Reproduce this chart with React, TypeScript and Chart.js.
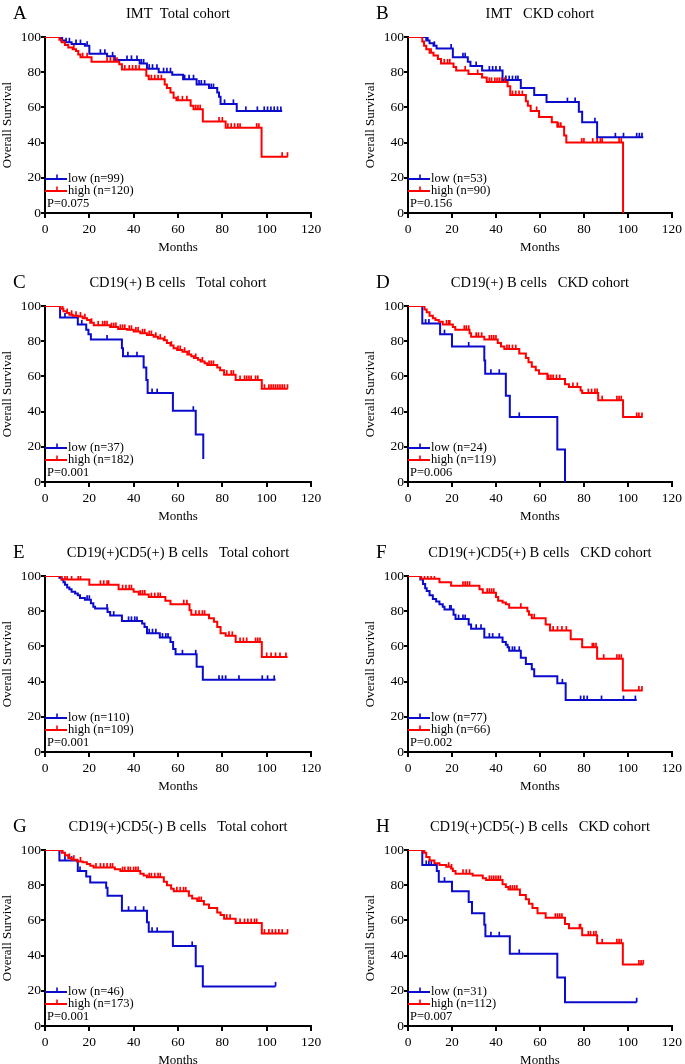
import { useEffect, useRef } from 'react';
import { Chart, registerables } from 'chart.js';

Chart.register(...registerables);

const FONT = "'Liberation Serif', 'Times New Roman', Times, serif";
const BLUE = '#0b0bcc';
const RED = '#ff0000';

const xTicks = [0, 20, 40, 60, 80, 100, 120];
const yTicks = [0, 20, 40, 60, 80, 100];

// ---- Panel A: IMT, total cohort ----
const A_low_t = [7.2, 9, 12, 18, 20, 28, 31.5, 42.7, 46, 51.3, 57.4, 62.3, 68.4, 74, 77.7, 78.5, 79.2, 86.5];
const A_low_s = [98, 97, 96, 95, 90.5, 89, 87, 85, 82, 80, 78.5, 76, 73, 71, 68.5, 66, 62, 58];
const A_low_c = [1, 2.5, 4, 5, 7.8, 9.5, 11, 14, 16, 19, 25, 27, 30.5, 37, 39, 41.5, 43.5, 44.5, 47, 48.5, 50.5, 53.5, 55, 56.6, 63, 65, 67, 69.5, 70.5, 72, 75, 76, 81, 85, 90.6, 95.8, 98.9, 100.4, 101.9, 103.4, 104.9, 106.4];
const A_low_end = 107;
const A_high_t = [6.5, 7.5, 9, 10.5, 12.5, 14, 15, 16, 21, 33.5, 34.7, 45.7, 46.8, 54, 55, 56.6, 58, 59.3, 65.7, 67, 71.2, 81.5, 97.7];
const A_high_s = [98.5, 97, 95.5, 94, 93, 92, 90, 88.5, 86, 84.5, 81.5, 78, 76, 73, 71, 68.5, 65.5, 64, 61, 59, 52, 48.5, 32];
const A_high_c = [1, 2, 3, 4, 5, 13, 17, 19, 28, 29.5, 31, 32.5, 36, 38, 39.5, 41, 42.5, 48, 49.5, 51, 52.5, 60, 62, 64, 68, 69, 70, 78.5, 80, 82.5, 84, 85.5, 87, 88, 95.5, 96.5, 107, 109.4];
const A_high_end = 109.5;

// ---- Panel B: IMT, CKD cohort ----
const B_low_t = [8.3, 9.8, 11.6, 13, 20.4, 27.2, 28.4, 33.7, 43, 51.3, 57.4, 63, 77.7, 79.2, 86];
const B_low_s = [98, 96.5, 95, 93.5, 88.5, 86, 83.5, 81, 75.5, 71, 67, 63, 57.5, 51.5, 43];
const B_low_c = [2.3, 4, 7.5, 9, 12, 19.6, 25, 26, 31, 37, 38.5, 40, 41.8, 44.5, 46, 47.5, 49, 50, 72.5, 76, 85, 94.3, 98, 104, 105.2, 106.4];
const B_low_end = 107;
const B_high_t = [6.5, 7.3, 8.3, 9.8, 11.6, 13.6, 15, 20.7, 21.9, 27.5, 33.7, 35.8, 45.3, 46.5, 53.6, 54.5, 55.8, 59.6, 65.4, 67.9, 71, 72, 97.8];
const B_high_s = [97.5, 95, 93, 91, 89.5, 87.5, 85, 83, 81, 79, 77, 74.5, 72, 67, 63.5, 61, 58, 54.5, 51.5, 49, 44, 40, 0];
const B_high_c = [1, 2, 3, 4, 5, 10.5, 16.5, 18, 19, 26, 31.7, 37, 38, 39.5, 40.5, 41.5, 42.5, 44, 47.5, 49, 50.5, 52, 58.5, 68.5, 69.5, 79, 80, 84, 86, 87.5, 88.3, 96, 97];
const B_high_end = 97.8;

// ---- Panel C: CD19(+) B cells, total cohort ----
const C_low_t = [6.8, 14.8, 18.6, 19.6, 20.7, 34.7, 35.2, 44.5, 45.7, 46.3, 57.7, 68, 71.4];
const C_low_s = [93.5, 89.5, 86.5, 84, 81, 76, 71.5, 65, 58, 50.5, 40.5, 27, 13];
const C_low_c = [1.5, 3, 9, 16.6, 28, 37.4, 41.5, 48.3, 50.6, 66.9];
const C_low_end = 71.4;
const C_high_t = [7, 8.3, 9.8, 11, 12.5, 15, 17, 19, 20.4, 22, 29.4, 33, 37, 40, 43, 46, 49, 51, 53.6, 55, 56.6, 58, 59.6, 62, 64.2, 66, 67.2, 69, 70.2, 72, 73.2, 77.7, 79, 80.8, 86, 97.8];
const C_high_s = [98.5, 97, 96, 95, 94.5, 94, 93, 92, 90.5, 89, 88, 87, 86.5, 85.5, 84.5, 83.5, 82.5, 81.5, 80.5, 79, 77.5, 76, 75, 74, 72.5, 71.5, 70.5, 69.5, 68.5, 67.5, 66.5, 65, 63.5, 61, 58, 53];
const C_high_c = [1, 2, 3, 4, 5, 6, 8, 10, 12, 14, 16, 18, 21, 24, 26, 27, 28, 30, 31, 32, 34, 35, 36, 38, 39, 41, 42, 44, 45, 47, 48, 50, 52, 54, 57, 60, 61, 63, 65, 68, 71, 74, 75, 76, 82, 84, 85, 88, 90, 91, 92, 93, 95, 96, 99, 101, 102, 103, 104, 105, 106, 107, 108, 109.4];
const C_high_end = 109.5;

// ---- Panel D: CD19(+) B cells, CKD cohort ----
const D_low_t = [6.5, 14.6, 20, 34.7, 35.1, 44.5, 46.3, 67.9, 71.4];
const D_low_s = [90, 84, 77, 69, 61.5, 49, 37, 18.5, 0];
const D_low_c = [1.5, 8, 9.5, 16.6, 27.6, 37.7, 41.5, 50.6];
const D_low_end = 71.4;
const D_high_t = [7.5, 8.5, 9.8, 11.3, 12.5, 14, 15.8, 20.4, 21.5, 28, 28.7, 34.7, 40.8, 42.3, 43.8, 50.6, 53.6, 54.8, 56.3, 58.1, 59.6, 63.4, 71.4, 73.2, 78.5, 79.2, 86.5, 97.8];
const D_high_s = [98, 96.5, 94.5, 93, 92, 91, 89.5, 88, 86.5, 84.5, 82.5, 81, 79, 77, 75.5, 73, 70.5, 68, 65.5, 63.5, 61.5, 58.5, 55.5, 54, 52, 50.5, 46.5, 37];
const D_high_c = [1, 2, 3, 4, 5, 6, 17.5, 18.5, 19, 25.6, 26.5, 27.6, 31, 32, 33.5, 37, 38, 39, 40, 45, 46, 47.5, 49, 64, 65, 66, 67.5, 69, 75, 77, 82, 83.5, 85, 86, 88.3, 95, 96, 97, 104, 105, 106.4];
const D_high_end = 106.7;

// ---- Panel E: CD19(+)CD5(+) B cells, total cohort ----
const E_low_t = [6.5, 7.5, 8.3, 9, 10, 11, 12, 13.6, 14.8, 15.8, 18, 20.7, 21.8, 22.6, 28.2, 29.4, 34.7, 43.8, 44.9, 46, 51.8, 56.6, 57.8, 58.9, 68.4, 71.2];
const E_low_s = [99, 98, 96.5, 95, 93.5, 92.5, 91, 90, 89, 87.5, 86.5, 84.5, 82.5, 81.5, 79.5, 77.5, 74.5, 73, 71, 67.5, 65, 62.5, 58.5, 55.5, 48.5, 41];
const E_low_c = [1, 2, 3, 4, 5, 19, 20, 28, 31, 37.7, 39, 40.5, 41.5, 47, 48.5, 50, 53, 54.5, 55.5, 62, 68, 78.5, 80, 81.5, 87.5, 98, 100.4, 103.4];
const E_low_end = 104;
const E_high_t = [7.5, 20, 33.2, 40, 42.3, 46.8, 54.3, 56.6, 65.2, 66, 74, 76.2, 77.7, 79.2, 81.5, 86, 97.8];
const E_high_s = [98, 95, 92.5, 91, 89.5, 88, 86, 84, 80.5, 78, 76, 74, 71, 67.5, 66, 62.5, 54];
const E_high_c = [1, 2, 3, 4, 5, 6, 9, 10, 12, 15, 16, 25, 26.5, 28, 28.7, 35, 36.5, 38, 39, 43, 44, 45, 48, 49.5, 51, 52, 62.6, 64, 68, 69.5, 71, 72, 83, 84.5, 88, 89.5, 91, 95, 96, 97, 100, 102, 104, 106, 108.7];
const E_high_end = 109.4;

// ---- Panel F: CD19(+)CD5(+) B cells, CKD cohort ----
const F_low_t = [5.6, 6.8, 7.8, 8.5, 9.8, 11.3, 12.8, 14.3, 15.8, 16.6, 20.7, 21.6, 27.6, 28.7, 34.7, 43, 44.5, 45.3, 46, 51.3, 53.6, 56.3, 57.4, 67.9, 71.7];
const F_low_s = [98, 95.5, 93, 91.5, 89, 87, 85.5, 84, 82.5, 81, 78, 75.5, 72.5, 70, 65, 62.5, 61, 59.5, 57.5, 53.5, 50, 47, 43, 39, 29.5];
const F_low_c = [1, 2, 3, 4, 19, 19.6, 23, 25, 26, 31, 33.2, 37, 38.5, 41.5, 47.5, 48.5, 50.6, 70.2, 78.5, 80, 81.5, 88, 98, 103.4];
const F_low_end = 104;
const F_high_t = [6, 14.3, 19.6, 32.5, 34, 40, 41, 43, 44.5, 46, 54.3, 55, 56.3, 62.6, 64.6, 74, 79.2, 86, 97.7];
const F_high_s = [98.5, 96.5, 94.5, 92.5, 90.5, 88, 86, 85, 84, 82, 80, 78, 76, 72.5, 69, 64, 59.5, 53, 35];
const F_high_c = [1, 2, 3, 4, 5, 7.5, 9, 10.5, 12, 25, 26, 27, 28, 36, 37, 38, 39, 51.3, 57.4, 66, 68, 70, 72, 83.8, 84.5, 85.5, 89, 95, 96, 97, 105, 106.4];
const F_high_end = 106.7;

// ---- Panel G: CD19(+)CD5(-) B cells, total cohort ----
const G_low_t = [6.5, 14.8, 18.6, 20.4, 27.6, 28.2, 34.7, 46, 46.8, 57.7, 68, 71.2];
const G_low_s = [94, 88, 85, 81.5, 78.5, 74, 65.5, 59, 53.5, 45.5, 34, 22.5];
const G_low_c = [1.5, 3.5, 9, 12, 15.8, 37.7, 40.8, 44.5, 48.3, 50.6, 66.4, 104];
const G_low_end = 104;
const G_high_t = [7.5, 9, 10.5, 12, 14.5, 17, 18.9, 20.4, 21.9, 31.5, 34, 43, 44.5, 46, 53.6, 55, 56.9, 58.1, 64.9, 66.4, 68.7, 71.7, 74, 77.7, 79.2, 80.8, 86, 97.8];
const G_high_s = [98.5, 97, 95.5, 94.5, 93.5, 93, 92, 91, 90, 89, 88, 86.5, 85.5, 84.5, 82, 80, 78, 76.5, 74, 72.5, 71, 69, 67, 64.5, 63, 61, 58.5, 52.5];
const G_high_c = [1, 2, 3, 4, 5, 6, 8, 11, 13, 16, 23, 25, 26.5, 28, 29.5, 30.5, 35, 36, 37.5, 38.5, 40, 41, 42, 47, 48, 49.5, 51, 52, 59.5, 61, 62.5, 63.5, 69.5, 70.5, 82, 83.5, 88, 90, 91.5, 93, 94.5, 95.5, 99, 101, 102.5, 104, 105.5, 107, 109.4];
const G_high_end = 109.5;

// ---- Panel H: CD19(+)CD5(-) B cells, CKD cohort ----
const H_low_t = [6.5, 13.1, 14, 20, 27.6, 29.1, 34.7, 35.2, 46.3, 67.9, 71.4];
const H_low_s = [91.5, 88, 82, 76.5, 70.5, 64, 57.5, 51, 41, 27.5, 13.5];
const H_low_c = [1.5, 3, 4, 8.3, 9.5, 10.6, 16.6, 37.7, 41.5, 50.6, 104];
const H_low_end = 104;
const H_high_t = [7.1, 8.3, 9.8, 12, 14.3, 17.4, 19.6, 20.4, 21.6, 29.4, 34, 35.5, 43, 44.5, 45.7, 50.9, 53.6, 55, 56.6, 58.9, 62.6, 71.4, 73.2, 79.2, 86, 97.7];
const H_high_s = [98.5, 96, 94, 92.5, 91.5, 90.5, 89.5, 88, 86.5, 85.5, 84, 83, 80.5, 79, 77.5, 74.5, 72, 69.5, 67, 64, 61.5, 58, 55.5, 51.5, 47, 35];
const H_high_c = [1, 2, 3, 4, 5, 6, 7.5, 18.5, 19.8, 25, 26.5, 28, 37, 38, 39, 40, 41, 42, 46.5, 47.5, 48.5, 49.5, 67, 68, 69, 70, 78, 78.5, 82, 83, 84.5, 85.5, 88.3, 95, 96, 97, 105, 106, 107];
const H_high_end = 107;

type Curve = { t: number[]; s: number[]; c: number[]; end: number };
type Panel = {
  letter: string;
  title: string;
  lowLabel: string;
  highLabel: string;
  p: string;
  low: Curve;
  high: Curve;
  left: number;
  top: number;
  right: boolean;
};

const cv = (t: number[], s: number[], c: number[], end: number): Curve => ({ t, s, c, end });

const LEFT_X = 0;
const RIGHT_X = 363;
const ROW_TOPS = [0, 269, 539, 813];

const panels: Panel[] = [
  { letter: 'A', title: 'IMT  Total cohort', lowLabel: 'low (n=99)', highLabel: 'high (n=120)', p: 'P=0.075', low: cv(A_low_t, A_low_s, A_low_c, A_low_end), high: cv(A_high_t, A_high_s, A_high_c, A_high_end), left: LEFT_X, top: ROW_TOPS[0], right: false },
  { letter: 'B', title: 'IMT   CKD cohort', lowLabel: 'low (n=53)', highLabel: 'high (n=90)', p: 'P=0.156', low: cv(B_low_t, B_low_s, B_low_c, B_low_end), high: cv(B_high_t, B_high_s, B_high_c, B_high_end), left: RIGHT_X, top: ROW_TOPS[0], right: true },
  { letter: 'C', title: 'CD19(+) B cells   Total cohort', lowLabel: 'low (n=37)', highLabel: 'high (n=182)', p: 'P=0.001', low: cv(C_low_t, C_low_s, C_low_c, C_low_end), high: cv(C_high_t, C_high_s, C_high_c, C_high_end), left: LEFT_X, top: ROW_TOPS[1], right: false },
  { letter: 'D', title: 'CD19(+) B cells   CKD cohort', lowLabel: 'low (n=24)', highLabel: 'high (n=119)', p: 'P=0.006', low: cv(D_low_t, D_low_s, D_low_c, D_low_end), high: cv(D_high_t, D_high_s, D_high_c, D_high_end), left: RIGHT_X, top: ROW_TOPS[1], right: true },
  { letter: 'E', title: 'CD19(+)CD5(+) B cells   Total cohort', lowLabel: 'low (n=110)', highLabel: 'high (n=109)', p: 'P=0.001', low: cv(E_low_t, E_low_s, E_low_c, E_low_end), high: cv(E_high_t, E_high_s, E_high_c, E_high_end), left: LEFT_X, top: ROW_TOPS[2], right: false },
  { letter: 'F', title: 'CD19(+)CD5(+) B cells   CKD cohort', lowLabel: 'low (n=77)', highLabel: 'high (n=66)', p: 'P=0.002', low: cv(F_low_t, F_low_s, F_low_c, F_low_end), high: cv(F_high_t, F_high_s, F_high_c, F_high_end), left: RIGHT_X, top: ROW_TOPS[2], right: true },
  { letter: 'G', title: 'CD19(+)CD5(-) B cells   Total cohort', lowLabel: 'low (n=46)', highLabel: 'high (n=173)', p: 'P=0.001', low: cv(G_low_t, G_low_s, G_low_c, G_low_end), high: cv(G_high_t, G_high_s, G_high_c, G_high_end), left: LEFT_X, top: ROW_TOPS[3], right: false },
  { letter: 'H', title: 'CD19(+)CD5(-) B cells   CKD cohort', lowLabel: 'low (n=31)', highLabel: 'high (n=112)', p: 'P=0.007', low: cv(H_low_t, H_low_s, H_low_c, H_low_end), high: cv(H_high_t, H_high_s, H_high_c, H_high_end), left: RIGHT_X, top: ROW_TOPS[3], right: true },
];

const CANVAS_H = 255;
const PAD_TOP = 37;

function stepPoints(c: Curve) {
  const pts = [{ x: 0, y: 100 }];
  c.t.forEach((t, i) => pts.push({ x: t, y: c.s[i] }));
  pts.push({ x: c.end, y: c.s[c.s.length - 1] });
  return pts;
}

function survAt(c: Curve, x: number) {
  let v = 100;
  for (let i = 0; i < c.t.length; i++) if (c.t[i] <= x) v = c.s[i];
  return v;
}

function censorPoints(c: Curve) {
  return c.c.map((x) => ({ x, y: survAt(c, x) }));
}

function KMPanel({ panel }: { panel: Panel }) {
  const ref = useRef<HTMLCanvasElement | null>(null);
  const width = panel.right ? 322 : 325;
  const padRight = panel.right ? 12 : 14;

  useEffect(() => {
    if (!ref.current) return;
    const annot = {
      id: 'annot_' + panel.letter,
      afterDraw(chart: any) {
        const { ctx, chartArea } = chart;
        const { left, right, top, bottom } = chartArea;
        ctx.save();
        ctx.fillStyle = '#000';
        ctx.textAlign = 'left';
        ctx.textBaseline = 'alphabetic';
        ctx.font = `19px ${FONT}`;
        ctx.fillText(panel.letter, 13, top - 18.5);
        ctx.font = `14.5px ${FONT}`;
        ctx.textAlign = 'center';
        ctx.fillText(panel.title, (left + right) / 2, top - 19.5);
        const rows: [string, string, number][] = [
          [BLUE, panel.lowLabel, bottom - 34],
          [RED, panel.highLabel, bottom - 22],
        ];
        ctx.font = `12.5px ${FONT}`;
        ctx.textAlign = 'left';
        ctx.textBaseline = 'middle';
        for (const [col, label, y] of rows) {
          ctx.strokeStyle = col;
          ctx.lineWidth = 2;
          ctx.beginPath();
          ctx.moveTo(left, y);
          ctx.lineTo(left + 22, y);
          ctx.stroke();
          ctx.lineWidth = 1.6;
          ctx.beginPath();
          ctx.moveTo(left + 12, y);
          ctx.lineTo(left + 12, y - 4.5);
          ctx.stroke();
          ctx.fillStyle = '#000';
          ctx.fillText(label, left + 23, y);
        }
        ctx.fillText(panel.p, left + 2, bottom - 9);
        ctx.restore();
      },
    };

    const lineDs = (c: Curve, col: string, label: string) => ({
      type: 'line' as const,
      label,
      data: stepPoints(c),
      borderColor: col,
      backgroundColor: col,
      borderWidth: 2,
      stepped: true,
      fill: false,
      pointRadius: 0,
      pointHoverRadius: 0,
      tension: 0,
    });
    const censDs = (c: Curve, col: string, label: string) => ({
      type: 'scatter' as const,
      label,
      data: censorPoints(c),
      showLine: false,
      pointStyle: 'dash',
      pointRotation: -90,
      pointRadius: 4.5,
      pointHoverRadius: 4.5,
      pointBorderColor: col,
      pointBackgroundColor: col,
      pointBorderWidth: 1.7,
      borderColor: col,
    });

    const chart = new Chart(ref.current, {
      type: 'line',
      data: {
        datasets: [
          lineDs(panel.high, RED, panel.highLabel),
          censDs(panel.high, RED, panel.highLabel + ' censored'),
          lineDs(panel.low, BLUE, panel.lowLabel),
          censDs(panel.low, BLUE, panel.lowLabel + ' censored'),
        ] as any,
      },
      options: {
        responsive: false,
        animation: false,
        events: [],
        layout: { padding: { top: PAD_TOP, left: 0, right: padRight, bottom: 0 } },
        plugins: {
          legend: { display: false },
          tooltip: { enabled: false },
          title: { display: false },
        },
        scales: {
          x: {
            type: 'linear',
            min: 0,
            max: 120,
            afterBuildTicks: (scale: any) => {
              scale.ticks = xTicks.map((v) => ({ value: v }));
            },
            afterFit: (scale: any) => {
              scale.height = 42;
            },
            ticks: {
              color: '#000',
              font: { family: FONT, size: 13.5 },
              padding: 3,
              maxRotation: 0,
              autoSkip: false,
            },
            grid: {
              display: true,
              drawOnChartArea: false,
              drawTicks: true,
              tickLength: 5,
              color: '#000',
              lineWidth: 2,
            },
            border: { display: true, color: '#000', width: 2 },
            title: {
              display: true,
              text: 'Months',
              color: '#000',
              font: { family: FONT, size: 13, lineHeight: 1.2 },
              padding: { top: 0, bottom: 0 },
            },
          },
          y: {
            type: 'linear',
            min: 0,
            max: 100,
            afterBuildTicks: (scale: any) => {
              scale.ticks = yTicks.map((v) => ({ value: v }));
            },
            afterFit: (scale: any) => {
              scale.width = 45;
            },
            ticks: {
              color: '#000',
              font: { family: FONT, size: 13.5 },
              padding: 0,
              autoSkip: false,
            },
            grid: {
              display: true,
              drawOnChartArea: false,
              drawTicks: true,
              tickLength: 4,
              color: '#000',
              lineWidth: 2,
            },
            border: { display: true, color: '#000', width: 2 },
            title: {
              display: true,
              text: 'Overall Survival',
              color: '#000',
              font: { family: FONT, size: 13, lineHeight: 1.2 },
              padding: { top: 0, bottom: 0 },
            },
          },
        },
      } as any,
      plugins: [annot],
    });
    return () => chart.destroy();
  }, [panel]);

  return (
    <canvas
      ref={ref}
      width={width}
      height={CANVAS_H}
      style={{ position: 'absolute', left: panel.left, top: panel.top, width, height: CANVAS_H }}
    />
  );
}

export default function App() {
  return (
    <div
      style={{
        position: 'absolute',
        left: 0,
        top: 0,
        width: 685,
        height: 1064,
        overflow: 'hidden',
        background: '#fff',
      }}
    >
      {panels.map((p) => (
        <KMPanel key={p.letter} panel={p} />
      ))}
    </div>
  );
}
